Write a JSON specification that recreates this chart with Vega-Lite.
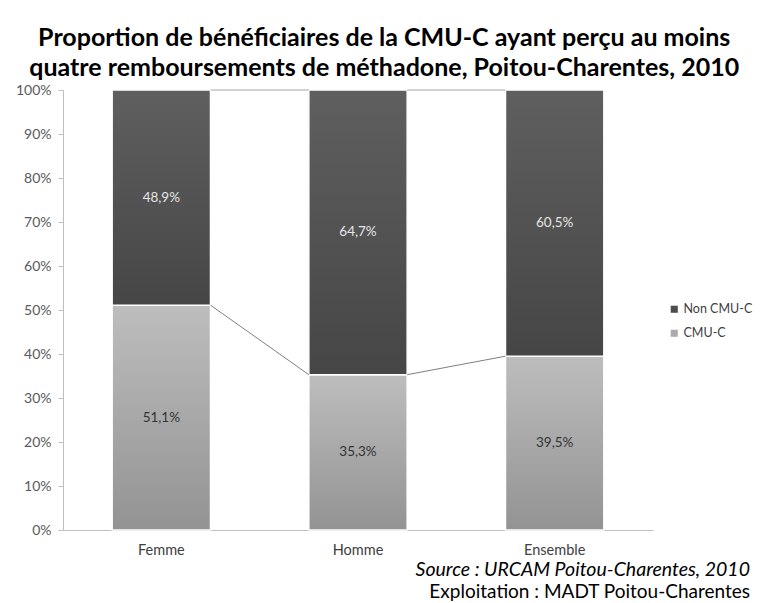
{
  "$schema": "https://vega.github.io/schema/vega-lite/v6.json",
  "padding": {"top": 26, "left": 15, "right": 5, "bottom": 0},
  "config": {
    "locale": {"number": {"decimal": ",", "thousands": " ", "grouping": [3], "currency": ["", " €"]}},
    "font": "Lato",
    "view": {"stroke": null},
    "concat": {"spacing": 0},
    "axisY": {"title": null, "format": ".0%", "labelOverlap": false, "grid": false, "domainColor": "#bfbfbf", "tickColor": "#bfbfbf", "tickSize": 5, "labelColor": "#595959", "labelFontSize": 14, "labelPadding": 7},
    "axisX": {"title": null, "labelAngle": 0, "ticks": false, "domainColor": "#bfbfbf", "labelColor": "#404040", "labelFontSize": 14.5, "labelPadding": 13}
  },
  "title": {
    "text": ["Proportion de bénéficiaires de la CMU-C ayant perçu au moins", "quatre remboursements de méthadone, Poitou-Charentes, 2010"],
    "font": "Lato", "fontSize": 25, "fontWeight": "bold", "color": "#000000",
    "lineHeight": 30, "anchor": "middle", "frame": "bounds", "offset": 2
  },
  "data": {"values": [
    {"cat": "Femme", "rang": 1, "groupe": "CMU-C", "valeur": 0.511},
    {"cat": "Femme", "rang": 1, "groupe": "Non CMU-C", "valeur": 0.489},
    {"cat": "Homme", "rang": 2, "groupe": "CMU-C", "valeur": 0.353},
    {"cat": "Homme", "rang": 2, "groupe": "Non CMU-C", "valeur": 0.647},
    {"cat": "Ensemble", "rang": 3, "groupe": "CMU-C", "valeur": 0.395},
    {"cat": "Ensemble", "rang": 3, "groupe": "Non CMU-C", "valeur": 0.605}
  ]},
  "vconcat": [
    {
      "width": 590,
      "height": 440,
      "title": {
        "text": "Source : URCAM Poitou-Charentes, 2010",
        "subtitle": "Exploitation : MADT Poitou-Charentes",
        "orient": "bottom", "anchor": "end", "frame": "bounds", "offset": 4, "dx": 97,
        "font": "Lato", "fontSize": 19.5, "fontStyle": "italic", "fontWeight": "normal", "color": "#000000",
        "subtitleFont": "Lato", "subtitleFontSize": 19, "subtitleFontStyle": "normal", "subtitleColor": "#000000", "subtitlePadding": 3
      },
      "transform": [
        {"stack": "valeur", "groupby": ["cat"], "sort": [{"field": "groupe", "order": "ascending"}], "as": ["y0", "y1"]}
      ],
      "layer": [
        {
          "mark": {"type": "bar"},
          "encoding": {
            "x": {"field": "cat", "type": "nominal",
              "scale": {"domain": ["Femme", "Homme", "Ensemble"], "paddingInner": 0.5, "paddingOuter": 0.25}},
            "y": {"field": "y1", "type": "quantitative",
              "scale": {"domain": [0, 1]},
              "axis": {"values": [0, 0.1, 0.2, 0.3, 0.4, 0.5, 0.6, 0.7, 0.8, 0.9, 1]}},
            "y2": {"field": "y0"},
            "color": {"field": "groupe", "type": "nominal",
              "scale": {"domain": ["Non CMU-C", "CMU-C"], "range": ["#4d4d4d", "#ababab"]},
              "legend": {"title": null, "orient": "none", "legendX": 605, "legendY": 213, "symbolType": "square", "symbolSize": 50, "labelFontSize": 12.5, "labelColor": "#404040", "rowPadding": 11, "labelOffset": 3, "symbolStrokeWidth": 0}}
          }
        },
        {
          "mark": {"type": "bar", "stroke": "#ffffff", "strokeWidth": 1.5},
          "encoding": {
            "x": {"field": "cat", "type": "nominal"},
            "y": {"field": "y1", "type": "quantitative", "axis": {"values": [0, 0.1, 0.2, 0.3, 0.4, 0.5, 0.6, 0.7, 0.8, 0.9, 1]}},
            "y2": {"field": "y0"},
            "fill": {
              "condition": {"test": "datum.groupe == 'Non CMU-C'", "value": {"gradient": "linear", "x1": 0, "y1": 0, "x2": 0, "y2": 1, "stops": [{"offset": 0, "color": "#5f5f5f"}, {"offset": 1, "color": "#464646"}]}},
              "value": {"gradient": "linear", "x1": 0, "y1": 0, "x2": 0, "y2": 1, "stops": [{"offset": 0, "color": "#bdbdbd"}, {"offset": 1, "color": "#939393"}]}
            }
          }
        },
        {
          "transform": [{"calculate": "(datum.y0 + datum.y1) / 2", "as": "mid"}],
          "mark": {"type": "text", "fontSize": 13.5, "font": "Lato"},
          "encoding": {
            "x": {"field": "cat", "type": "nominal"},
            "y": {"field": "mid", "type": "quantitative", "axis": {"values": [0, 0.1, 0.2, 0.3, 0.4, 0.5, 0.6, 0.7, 0.8, 0.9, 1]}},
            "text": {"field": "valeur", "type": "quantitative", "format": ".1%"},
            "color": {"condition": {"test": "datum.groupe == 'Non CMU-C'", "value": "#e6e6e6"}, "value": "#333333"}
          }
        },
        {
          "transform": [
            {"filter": "datum.groupe == 'CMU-C'"},
            {"window": [{"op": "lead", "field": "cat", "as": "next"}, {"op": "lead", "field": "y1", "as": "nextY"}], "sort": [{"field": "rang", "order": "ascending"}]},
            {"filter": "datum.next != null"}
          ],
          "mark": {"type": "rule", "color": "#7f7f7f", "strokeWidth": 1},
          "encoding": {
            "x": {"field": "cat", "type": "nominal", "bandPosition": 1},
            "x2": {"field": "next", "bandPosition": 0},
            "y": {"field": "y1", "type": "quantitative", "axis": {"values": [0, 0.1, 0.2, 0.3, 0.4, 0.5, 0.6, 0.7, 0.8, 0.9, 1]}},
            "y2": {"field": "nextY"}
          }
        },
        {
          "transform": [
            {"filter": "datum.groupe == 'CMU-C'"},
            {"window": [{"op": "lead", "field": "cat", "as": "next"}], "sort": [{"field": "rang", "order": "ascending"}]},
            {"filter": "datum.next != null"}
          ],
          "mark": {"type": "rule", "color": "#a6a6a6", "strokeWidth": 1},
          "encoding": {
            "x": {"field": "cat", "type": "nominal", "bandPosition": 1},
            "x2": {"field": "next", "bandPosition": 0},
            "y": {"datum": 1, "type": "quantitative", "axis": {"values": [0, 0.1, 0.2, 0.3, 0.4, 0.5, 0.6, 0.7, 0.8, 0.9, 1]}},
            "y2": {"datum": 1}
          }
        }
      ]
    }
  ]
}
